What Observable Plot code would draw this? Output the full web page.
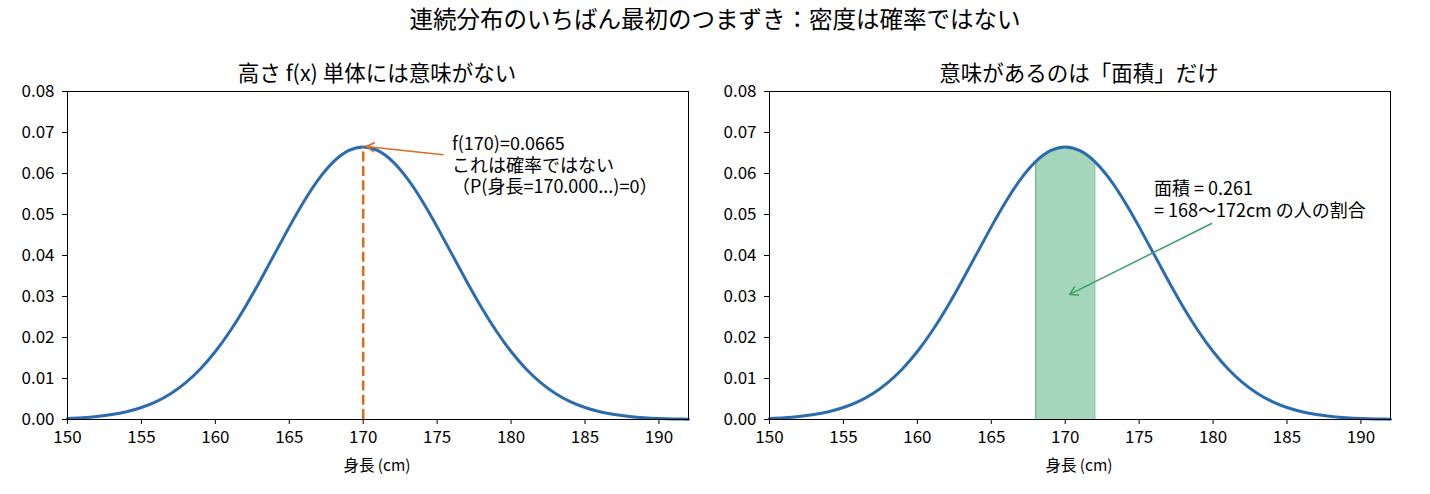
<!DOCTYPE html>
<html><head><meta charset="utf-8">
<script src="https://cdn.jsdelivr.net/npm/d3@7"></script>
<script src="https://cdn.jsdelivr.net/npm/@observablehq/plot@0.6"></script>
<style>
html,body{margin:0;padding:0;background:#fff;}
body{width:1430px;height:494px;position:relative;overflow:hidden;font-family:"Noto Sans CJK JP","Noto Sans",sans-serif;}
.t{position:absolute;white-space:nowrap;color:#000;transform:translate(-50%,-50%);line-height:1;}
.p{position:absolute;top:0;}
</style></head><body>
<script>
// Heights (cm) and density values
const heights = [150,151,152,153,154,155,156,157,158,159,160,161,162,163,164,165,166,167,168,169,170,171,172,173,174,175,176,177,178,179,180,181,182,183,184,185,186,187,188,189,190,191,192];
const density = [0.000257,0.000442,0.000739,0.001201,0.001899,0.002921,0.004370,0.006359,0.008998,0.012385,0.016579,0.021586,0.027335,0.033666,0.040328,0.046985,0.053241,0.058677,0.062897,0.065573,0.066490,0.065573,0.062897,0.058677,0.053241,0.046985,0.040328,0.033666,0.027335,0.021586,0.016579,0.012385,0.008998,0.006359,0.004370,0.002921,0.001899,0.001201,0.000739,0.000442,0.000257,0.000145,0.000080];
const xTicks = [150,155,160,165,170,175,180,185,190];
const yTicks = [0,0.01,0.02,0.03,0.04,0.05,0.06,0.07,0.08];
const meanHeight = [170];
const peakValue = [0.0665];
const bandRange = [168,172];
const leftNoteLines = ["f(170)=0.0665","これは確率ではない","（P(身長=170.000...)=0）"];
const leftNoteAt = [176,0.0622];
const leftArrow = [[175.4,0.0646],[170.2,0.0666]];
const rightNoteLines = ["面積 = 0.261","= 168〜172cm の人の割合"];
const rightNoteAt = [176,0.0539];
const rightArrow = [[179.9,0.0478],[170.3,0.0305]];
const mainTitle = "連続分布のいちばん最初のつまずき：密度は確率ではない";
const leftTitle = "高さ f(x) 単体には意味がない";
const rightTitle = "意味があるのは「面積」だけ";
const xLabel = "身長 (cm)";

const data = heights.map((h,i)=>({x:h,y:density[i]}));
const band = data.filter(d=>d.x>=bandRange[0]&&d.x<=bandRange[1]);

const BLUE="#2b6cb0", ORANGE="#dd6b20", GREEN="#38a169";
const FONT='"Noto Sans CJK JP","Noto Sans",sans-serif';
const FS=17, NS=18;

function base(extra){
  return Plot.plot({
    width:715, height:494,
    marginLeft:67, marginRight:27, marginTop:91, marginBottom:75,
    style:{fontFamily:FONT,fontSize:FS+"px",background:"transparent",color:"#000"},
    x:{domain:[150,192],label:null},
    y:{domain:[0,0.08],label:null},
    marks:[
      ...extra.before,
      Plot.line(data,{x:"x",y:"y",stroke:BLUE,strokeWidth:3,curve:"natural"}),
      ...extra.after,
      Plot.frame({stroke:"#000",strokeWidth:1}),
      Plot.axisX({ticks:xTicks,tickFormat:d3.format("d"),tickSize:5,tickPadding:6,fontSize:FS,label:null}),
      Plot.axisY({ticks:yTicks,tickFormat:d3.format(".2f"),tickSize:5,tickPadding:8,fontSize:FS,label:null})
    ]
  });
}

const left = base({
  before:[],
  after:[
    Plot.ruleX(meanHeight,{x:d=>d,y1:0,y2:peakValue[0],stroke:ORANGE,strokeWidth:2.5,strokeDasharray:"10,4.3"}),
    Plot.arrow([0],{x1:leftArrow[0][0],y1:leftArrow[0][1],x2:leftArrow[1][0],y2:leftArrow[1][1],stroke:ORANGE,strokeWidth:1.5,headLength:9,bend:0}),
    Plot.text([leftNoteLines.join("\n")],{x:leftNoteAt[0],y:leftNoteAt[1],text:d=>d,textAnchor:"start",lineAnchor:"middle",lineHeight:1.22,fontSize:NS,fill:"#000"})
  ]
});
const right = base({
  before:[
    Plot.areaY(band,{x:"x",y:"y",fill:GREEN,fillOpacity:0.45,curve:"natural"}),
    Plot.ruleX(bandRange,{x:d=>d,y1:0,y2:d=>density[heights.indexOf(d)],stroke:GREEN,strokeOpacity:0.5,strokeWidth:1.5})
  ],
  after:[
    Plot.arrow([0],{x1:rightArrow[0][0],y1:rightArrow[0][1],x2:rightArrow[1][0],y2:rightArrow[1][1],stroke:GREEN,strokeWidth:1.5,headLength:9,bend:0}),
    Plot.text([rightNoteLines.join("\n")],{x:rightNoteAt[0],y:rightNoteAt[1],text:d=>d,textAnchor:"start",lineAnchor:"middle",lineHeight:1.22,fontSize:NS,fill:"#000"})
  ]
});

function place(el,x){const d=document.createElement("div");d.className="p";d.style.left=x+"px";d.appendChild(el);document.body.appendChild(d);}
place(left,0); place(right,702);
function txt(s,x,y,size){const d=document.createElement("div");d.className="t";d.textContent=s;d.style.left=x+"px";d.style.top=y+"px";d.style.fontSize=size+"px";document.body.appendChild(d);}
txt(mainTitle,715,19,23.5);
txt(leftTitle,377,72,21.5);
txt(rightTitle,1079,72,21.5);
txt(xLabel,377,465,15.5);
txt(xLabel,1079,465,15.5);
</script>
</body></html>
